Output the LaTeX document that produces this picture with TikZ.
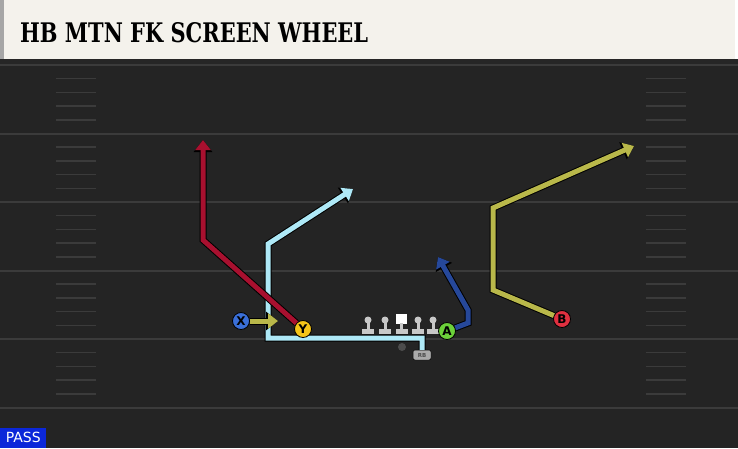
\documentclass[tikz,border=0pt]{standalone}
\usepackage{fontspec}
\setmainfont{DejaVu Sans}
\newfontfamily\titlefont{DejaVu Serif}
\usetikzlibrary{arrows.meta}
\definecolor{turf}{HTML}{242424}
\definecolor{chalk}{HTML}{3b3b3b}
\definecolor{paper}{HTML}{F4F2EC}
\definecolor{redroute}{HTML}{A8102F}
\definecolor{iceroute}{HTML}{AEE9F7}
\definecolor{navyroute}{HTML}{26489A}
\definecolor{oliveroute}{HTML}{B9B84A}
\definecolor{xblue}{HTML}{3A6FD8}
\definecolor{yyellow}{HTML}{F5C518}
\definecolor{agreen}{HTML}{6CD13A}
\definecolor{bred}{HTML}{E03040}
\definecolor{lineman}{HTML}{C8C8C8}
\definecolor{passblue}{HTML}{0B27D9}
\tikzset{
  player/.style={circle, draw=black, line width=0.8pt, inner sep=0pt, minimum size=17pt,
    font=\fontsize{12}{12}\selectfont\bfseries},
  route/.style={line width=5pt, line join=miter, -{Triangle[length=10pt,width=15pt]},
    preaction={draw=black, line width=7pt, -{Triangle[length=12pt,width=18pt]}}}
}
\begin{document}
\begin{tikzpicture}[x=1pt,y=-1pt]
\useasboundingbox (0,0) rectangle (738,448);
\fill[turf] (0,59) rectangle (738,448);
\fill[black!85] (0,59) rectangle (738,64);
\fill[paper] (4,0) rectangle (735,59);
\fill[gray!70] (0,0) rectangle (4,59);
\node[anchor=base west, inner sep=0pt] (title) at (20,42)
  {\resizebox{348pt}{20pt}{\titlefont\bfseries HB MTN FK SCREEN WHEEL}};
\foreach \y in {65,133.5,202,270.5,339,407.5}
  \draw[chalk, line width=2pt] (0,\y) -- (738,\y);
\foreach \y in {65,133.5,202,270.5,339}
  \foreach \k in {1,2,3,4}{
    \draw[chalk, line width=1.5pt] (56,\y+13.7*\k) -- (96,\y+13.7*\k);
    \draw[chalk, line width=1.5pt] (646,\y+13.7*\k) -- (686,\y+13.7*\k);
  }
\foreach \x in {368,385,418,433}{
  \fill[lineman] (\x,320) circle (3.5);
  \fill[lineman] (\x-1.5,321) rectangle (\x+1.5,330);
  \fill[lineman] (\x-6,329) rectangle (\x+6,334);
}
\fill[white] (396,314) rectangle (407,324);
\fill[lineman] (400,323) rectangle (403,330);
\fill[lineman] (395.5,329) rectangle (407.5,334);
\fill[gray!60!black] (402,347) circle (4);
\node[fill=lineman!85!black, draw=black, line width=0.5pt, rounded corners=2pt,
  minimum width=18pt, minimum height=10pt, inner sep=0pt,
  font=\fontsize{5.5}{6}\selectfont\bfseries, text=black!70] (RB) at (422,355) {RB};
\coordinate (redend) at (203,140);
\coordinate (iceend) at (353,189);
\coordinate (navyend) at (438,257);
\coordinate (oliveend) at (634,146);
\coordinate (motion) at (278,321);
\draw[route, iceroute] (RB.north) -- (422,338) -- (268,338) -- (268,244) -- (iceend);
\node[player, fill=xblue] (X) at (241,321) {X};
\node[player, fill=yyellow] (Y) at (303,329) {Y};
\node[player, fill=agreen] (A) at (447,331) {A};
\node[player, fill=bred] (B) at (562,319) {B};
\draw[route, redroute] (Y) -- (203,240) -- (redend);
\draw[route, oliveroute] (X) -- (motion);
\draw[route, navyroute] (A) -- (468,323) -- (468,310) -- (navyend);
\draw[route, oliveroute] (B) -- (493,290) -- (493,208) -- (oliveend);
\node[fill=passblue, text=white, anchor=south west, minimum width=46pt, minimum height=20pt,
  inner sep=0pt, font=\fontsize{14}{14}\selectfont] (pass) at (0,448) {PASS};
\end{tikzpicture}
\end{document}
